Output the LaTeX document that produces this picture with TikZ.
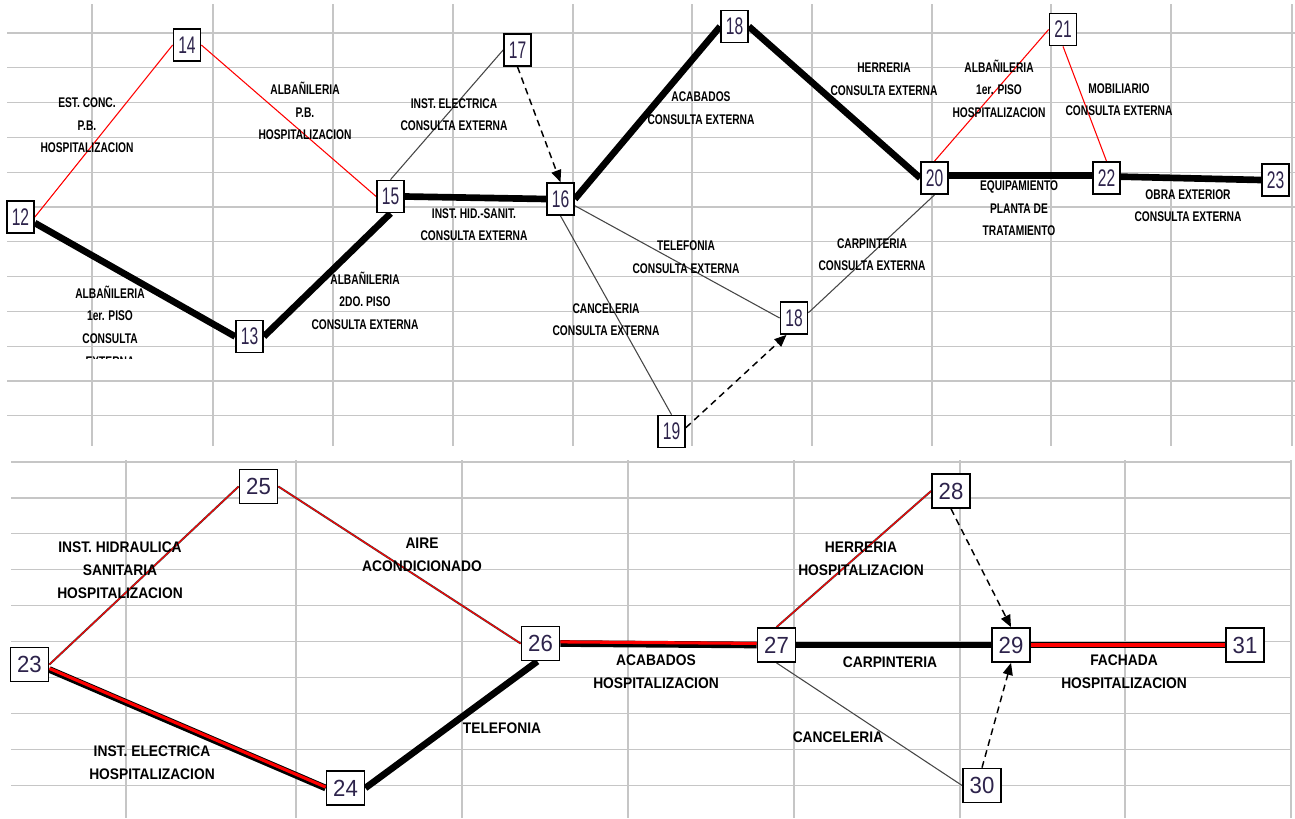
\documentclass[tikz,border=0pt]{standalone}
\usepackage{fontspec}
\newfontfamily\numTop[FakeStretch=0.65]{Liberation Sans}
\newfontfamily\numBot[FakeStretch=0.95]{Liberation Sans}
\newfontfamily\labTop[FakeStretch=0.73]{Liberation Sans}
\newfontfamily\labBot[FakeStretch=0.9]{Liberation Sans}
\usetikzlibrary{arrows.meta}
\definecolor{gridc}{RGB}{198,198,198}
\definecolor{numc}{RGB}{45,35,75}
\definecolor{thinc}{RGB}{70,70,70}
\pgfdeclarelayer{background}
\pgfsetlayers{background,main}
\tikzset{
  gridline/.style={line width=0.9pt, color=gridc},
  boxT/.style={draw=black, line width=1.3pt, fill=white, minimum width=20.25pt, minimum height=24pt, inner sep=0pt, text=numc, font=\numTop\fontsize{18}{18}\selectfont},
  boxB/.style={draw=black, line width=1.3pt, fill=white, minimum width=28.5pt, minimum height=25.5pt, inner sep=0pt, text=numc, font=\numBot\fontsize{17.5}{17.5}\selectfont},
  labT/.style={align=center, inner sep=0pt, font=\labTop\bfseries\fontsize{10.5}{16.9}\selectfont},
  labB/.style={align=center, inner sep=0pt, font=\labBot\bfseries\fontsize{11.5}{17.25}\selectfont},
  critline/.style={line width=5pt, color=black},
  redfill/.style={line width=2.3pt, color=red},
  grayline/.style={line width=0.8pt, color=thinc},
  redline/.style={line width=0.8pt, color=red},
  shadowline/.style={line width=1.5pt, color=black!75},
  dashline/.style={line width=1.1pt, color=black, dash pattern=on 5pt off 3.5pt, -{Triangle[length=9pt,width=7.5pt]}}
}
\begin{document}
\begin{tikzpicture}[x=0.75pt,y=-0.75pt]
\useasboundingbox (0,0) rectangle (1295,818);

% ---------- top nodes ----------
\node[boxT] (t12) at (20.5,217) {12};
\node[boxT] (t14) at (187,45) {14};
\node[boxT] (t13) at (249.5,336.5) {13};
\node[boxT] (t15) at (390.5,196.5) {15};
\node[boxT] (t17) at (517.5,50) {17};
\node[boxT] (t16) at (560.5,199) {16};
\node[boxT] (t18a) at (734.5,26.5) {18};
\node[boxT] (t18b) at (794,318) {18};
\node[boxT] (t19) at (671.5,431.5) {19};
\node[boxT] (t20) at (934.5,178) {20};
\node[boxT] (t21) at (1063,29.5) {21};
\node[boxT] (t22) at (1106.5,178) {22};
\node[boxT] (t23) at (1275.5,180) {23};

% ---------- bottom nodes ----------
\node[boxB] (b23) at (29.5,664.5) {23};
\node[boxB] (b25) at (258.5,486.5) {25};
\node[boxB] (b24) at (345.5,788) {24};
\node[boxB] (b26) at (540.5,643.5) {26};
\node[boxB] (b27) at (776.5,645) {27};
\node[boxB] (b28) at (951,491) {28};
\node[boxB] (b29) at (1011,645) {29};
\node[boxB] (b31) at (1245,645) {31};
\node[boxB] (b30) at (982,785.5) {30};

\begin{pgfonlayer}{background}
\fill[white] (0,0) rectangle (1295,818);
% top grid
\foreach \x in {92,213,333,453,573,692,812,932,1051,1171,1292}
  \draw[gridline] (\x,4) -- (\x,446);
\foreach \k in {0,...,11}
  \draw[gridline] (7,{33+34.8*\k}) -- (1295,{33+34.8*\k});
% bottom grid
\foreach \x in {126,296,462,628,794,960,1125,1291}
  \draw[gridline] (\x,460) -- (\x,818);
\foreach \k in {0,...,9}
  \draw[gridline] (11,{462+35.9*\k}) -- (1291,{462+35.9*\k});

% top edges
\draw[redline] (t12.east) -- (t14.west);
\draw[redline] (t14.east) -- (t15.west);
\draw[critline] ([yshift=-4.5pt]t12.east) -- (t13.west);
\draw[critline] (t13.east) -- (t15.south);
\draw[grayline] (t15.north) -- (t17.west);
\draw[critline] (t15.east) -- (t16.west);
\draw[dashline] (t17.south) -- (t16.north);
\draw[critline] (t16.east) -- (t18a.west);
\draw[critline] (t18a.east) -- (t20.west);
\draw[grayline] (t16.-25) -- (t18b.west);
\draw[grayline] (t16.south) -- (t19.north);
\draw[dashline] (t19.15) -- (t18b.-114);
\draw[grayline] (t18b.20) -- (t20.south);
\draw[redline] (t20.north) -- (t21.west);
\draw[redline] (t21.south) -- (t22.north);
\draw[critline] ([yshift=2pt]t20.east) -- ([yshift=2pt]t22.west);
\draw[critline] ([yshift=1pt]t22.east) -- (t23.west);

% bottom edges
\draw[shadowline] (b23.east) -- (b25.west);
\draw[redline] (b23.east) -- (b25.west);
\draw[shadowline] (b25.east) -- (b26.west);
\draw[redline] (b25.east) -- (b26.west);
\draw[critline] ([yshift=-3.75pt]b23.east) -- (b24.west);
\draw[redfill] ([yshift=-3pt]b23.east) -- ([yshift=0.7pt]b24.west);
\draw[critline] (b24.east) -- (b26.-100);
\draw[critline] (b26.east) -- (b27.west);
\draw[redfill] ([yshift=1.2pt]b26.east) -- ([yshift=1.2pt]b27.west);
\draw[shadowline] (b27.north) -- (b28.west);
\draw[redline] (b27.north) -- (b28.west);
\draw[critline] (b27.east) -- (b29.west);
\draw[dashline] (b28.south) -- (b29.north);
\draw[dashline] (b30.north) -- (b29.south);
\draw[grayline] (b27.south) -- (b30.west);
\draw[critline] (b29.east) -- (b31.west);
\draw[red, line width=2.8pt] (b29.east) -- (b31.west);
\end{pgfonlayer}

% ---------- top labels ----------
\node[labT] (l1) at (87,125.5) {EST. CONC.\\P.B.\\HOSPITALIZACION};
\node[labT] (l2) at (305,111) {ALBAÑILERIA\\P.B.\\HOSPITALIZACION};
\begin{scope}
\clip (0,250) rectangle (300,358);
\node[labT] (l3) at (110,326) {ALBAÑILERIA\\1er. PISO\\CONSULTA\\EXTERNA};
\end{scope}
\node[labT] (l4) at (365,300.5) {ALBAÑILERIA\\2DO. PISO\\CONSULTA EXTERNA};
\node[labT] (l5) at (454,114.5) {INST. ELECTRICA\\CONSULTA EXTERNA};
\node[labT] (l6) at (474,224.5) {INST. HID.-SANIT.\\CONSULTA EXTERNA};
\node[labT] (l7) at (701,108) {ACABADOS\\CONSULTA EXTERNA};
\node[labT] (l8) at (686,257) {TELEFONIA\\CONSULTA EXTERNA};
\node[labT] (l9) at (606,319.5) {CANCELERIA\\CONSULTA EXTERNA};
\node[labT] (l10) at (884,79) {HERRERIA\\CONSULTA EXTERNA};
\node[labT] (l11) at (999,88.5) {ALBAÑILERIA\\1er. PISO\\HOSPITALIZACION};
\node[labT] (l12) at (1119,99.5) {MOBILIARIO\\CONSULTA EXTERNA};
\node[labT] (l13) at (1019,208.5) {EQUIPAMIENTO\\PLANTA DE\\TRATAMIENTO};
\node[labT] (l14) at (1188,205.5) {OBRA EXTERIOR\\CONSULTA EXTERNA};
\node[labT] (l15) at (872,254.5) {CARPINTERIA\\CONSULTA EXTERNA};

% ---------- bottom labels ----------
\node[labB] (m1) at (120,570) {INST. HIDRAULICA\\SANITARIA\\HOSPITALIZACION};
\node[labB] (m2) at (152,762.5) {INST. ELECTRICA\\HOSPITALIZACION};
\node[labB] (m3) at (422,554.5) {AIRE\\ACONDICIONADO};
\node[labB] (m4) at (502,728) {TELEFONIA};
\node[labB] (m5) at (656,672) {ACABADOS\\HOSPITALIZACION};
\node[labB] (m6) at (861,558.5) {HERRERIA\\HOSPITALIZACION};
\node[labB] (m7) at (890,662) {CARPINTERIA};
\node[labB] (m8) at (838,737) {CANCELERIA};
\node[labB] (m9) at (1124,672) {FACHADA\\HOSPITALIZACION};
\end{tikzpicture}
\end{document}
